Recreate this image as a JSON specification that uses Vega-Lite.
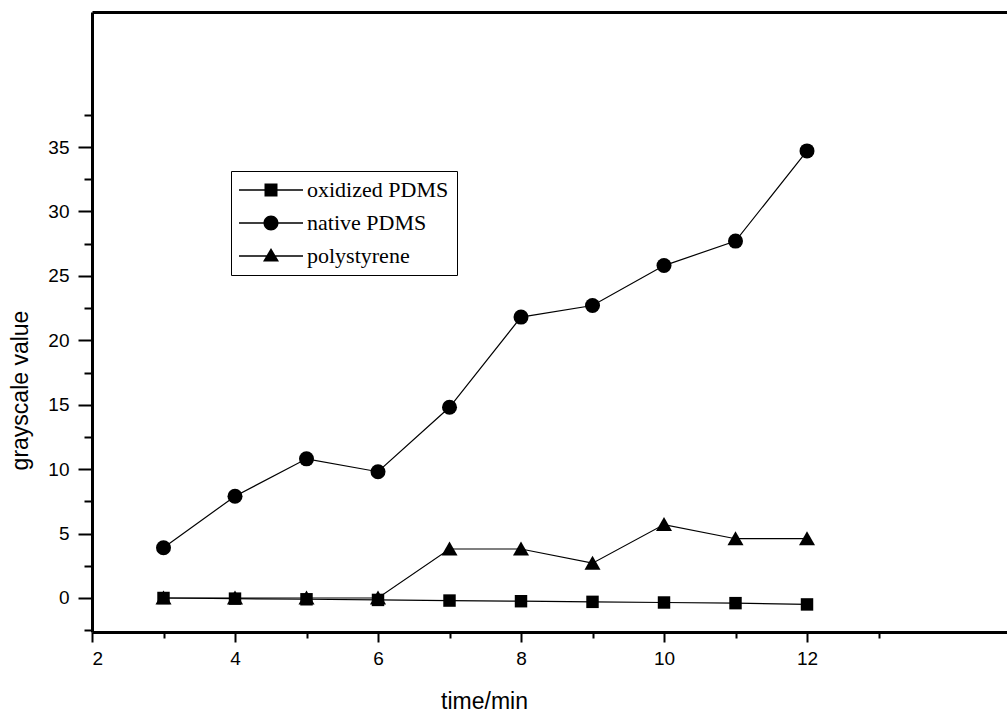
{
  "$schema": "https://vega.github.io/schema/vega-lite/v6.json",
  "width": 915,
  "height": 620,
  "autosize": {"type": "none"},
  "padding": {"left": 92, "top": 12, "right": 0, "bottom": 80},
  "background": "white",
  "data": {
    "values": [
      {"time": 3, "series": "oxidized PDMS", "value": 0},
      {"time": 4, "series": "oxidized PDMS", "value": -0.05},
      {"time": 5, "series": "oxidized PDMS", "value": -0.1},
      {"time": 6, "series": "oxidized PDMS", "value": -0.15},
      {"time": 7, "series": "oxidized PDMS", "value": -0.2},
      {"time": 8, "series": "oxidized PDMS", "value": -0.25},
      {"time": 9, "series": "oxidized PDMS", "value": -0.3},
      {"time": 10, "series": "oxidized PDMS", "value": -0.35},
      {"time": 11, "series": "oxidized PDMS", "value": -0.4},
      {"time": 12, "series": "oxidized PDMS", "value": -0.5},
      {"time": 3, "series": "native PDMS", "value": 3.9},
      {"time": 4, "series": "native PDMS", "value": 7.9},
      {"time": 5, "series": "native PDMS", "value": 10.8},
      {"time": 6, "series": "native PDMS", "value": 9.8},
      {"time": 7, "series": "native PDMS", "value": 14.8},
      {"time": 8, "series": "native PDMS", "value": 21.8},
      {"time": 9, "series": "native PDMS", "value": 22.7},
      {"time": 10, "series": "native PDMS", "value": 25.8},
      {"time": 11, "series": "native PDMS", "value": 27.7},
      {"time": 12, "series": "native PDMS", "value": 34.7},
      {"time": 3, "series": "polystyrene", "value": 0},
      {"time": 4, "series": "polystyrene", "value": 0},
      {"time": 5, "series": "polystyrene", "value": 0},
      {"time": 6, "series": "polystyrene", "value": 0},
      {"time": 7, "series": "polystyrene", "value": 3.8},
      {"time": 8, "series": "polystyrene", "value": 3.8},
      {"time": 9, "series": "polystyrene", "value": 2.7},
      {"time": 10, "series": "polystyrene", "value": 5.7},
      {"time": 11, "series": "polystyrene", "value": 4.6},
      {"time": 12, "series": "polystyrene", "value": 4.6}
    ]
  },
  "layer": [
    {
      "mark": {"type": "line", "color": "black", "strokeWidth": 1.2},
      "encoding": {
        "x": {
          "field": "time", "type": "quantitative",
          "scale": {"domain": [2, 14.797], "nice": false, "zero": false},
          "axis": {
            "orient": "bottom", "values": [2, 4, 6, 8, 10, 12], "tickSize": 10,
            "labelPadding": 7, "grid": false,
            "title": "time/min", "titleX": 392, "titleY": 76,
            "titleAlign": "center", "titleBaseline": "alphabetic"
          }
        },
        "y": {
          "field": "value", "type": "quantitative",
          "scale": {"domain": [-2.64, 45.48], "nice": false, "zero": false},
          "axis": {
            "orient": "left", "values": [0, 5, 10, 15, 20, 25, 30, 35], "tickSize": 14,
            "labelPadding": 9, "grid": false,
            "title": "grayscale value", "titleX": -72, "titleY": 378,
            "titleAngle": -90, "titleAlign": "center", "titleBaseline": "middle"
          }
        },
        "detail": {"field": "series", "type": "nominal"}
      }
    },
    {
      "mark": {"type": "point", "filled": true, "color": "black", "opacity": 1, "size": 225},
      "encoding": {
        "x": {
          "field": "time", "type": "quantitative",
          "scale": {"domain": [2, 14.797], "nice": false, "zero": false},
          "axis": {
            "orient": "bottom", "values": [3, 5, 7, 9, 11, 13], "tickSize": 6,
            "labels": false, "domain": false, "grid": false, "title": null
          }
        },
        "y": {
          "field": "value", "type": "quantitative",
          "scale": {"domain": [-2.64, 45.48], "nice": false, "zero": false},
          "axis": {
            "orient": "left",
            "values": [-2.5, 2.5, 7.5, 12.5, 17.5, 22.5, 27.5, 32.5, 37.5],
            "tickSize": 8, "labels": false, "domain": false, "grid": false, "title": null
          }
        },
        "shape": {
          "field": "series", "type": "nominal",
          "scale": {
            "domain": ["oxidized PDMS", "native PDMS", "polystyrene"],
            "range": [
              "M-0.83,-0.83H0.83V0.83H-0.83Z",
              "circle",
              "M0,-1L1.07,0.87L-1.07,0.87Z"
            ]
          },
          "legend": null
        }
      }
    },
    {
      "mark": {"type": "point", "filled": true, "color": "black", "size": 400, "opacity": 0},
      "encoding": {
        "x": {
          "field": "time", "type": "quantitative",
          "scale": {"domain": [2, 14.797], "nice": false, "zero": false},
          "axis": {
            "orient": "top", "ticks": false, "labels": false, "domain": true,
            "grid": false, "title": null
          }
        },
        "y": {
          "field": "value", "type": "quantitative",
          "scale": {"domain": [-2.64, 45.48], "nice": false, "zero": false},
          "axis": null
        },
        "shape": {
          "field": "series", "type": "nominal",
          "scale": {
            "domain": ["oxidized PDMS", "native PDMS", "polystyrene"],
            "range": [
              "M-3.2,-0.075H3.2V0.075H-3.2ZM-0.65,-0.65H0.65V0.65H-0.65Z",
              "M-3.2,-0.07H3.2V0.07H-3.2ZM0.75,0A0.75,0.75,0,1,1,-0.75,0A0.75,0.75,0,1,1,0.75,0Z",
              "M-3.2,-0.07H3.2V0.07H-3.2ZM0,-0.8L0.8,0.55L-0.8,0.55Z"
            ]
          },
          "legend": {
            "title": null,
            "orient": "none",
            "legendX": 139,
            "legendY": 159,
            "symbolSize": 400,
            "symbolOffset": 21,
            "labelOffset": 25,
            "symbolFillColor": "black",
            "symbolStrokeColor": "black",
            "symbolStrokeWidth": 0.5,
            "symbolOpacity": 1,
            "labelFont": "Liberation Serif",
            "labelFontSize": 22,
            "labelColor": "black",
            "labelLimit": 400,
            "strokeColor": "black",
            "fillColor": "white",
            "padding": 8,
            "rowPadding": 11,
            "encode": {
              "symbols": {
                "update": {
                  "opacity": {"value": 1},
                  "fill": {"value": "black"},
                  "fillOpacity": {"value": 1}
                }
              }
            }
          }
        }
      }
    }
  ],
  "resolve": {
    "scale": {"shape": "independent"},
    "legend": {"shape": "independent"},
    "axis": {"x": "independent", "y": "independent"}
  },
  "config": {
    "view": {"stroke": null},
    "axis": {
      "domainColor": "black",
      "domainWidth": 3,
      "tickColor": "black",
      "tickWidth": 2,
      "labelFont": "Liberation Sans",
      "labelFontSize": 19,
      "labelColor": "black",
      "titleFont": "Liberation Sans",
      "titleFontSize": 23,
      "titleFontWeight": "normal",
      "titleColor": "black"
    }
  }
}
